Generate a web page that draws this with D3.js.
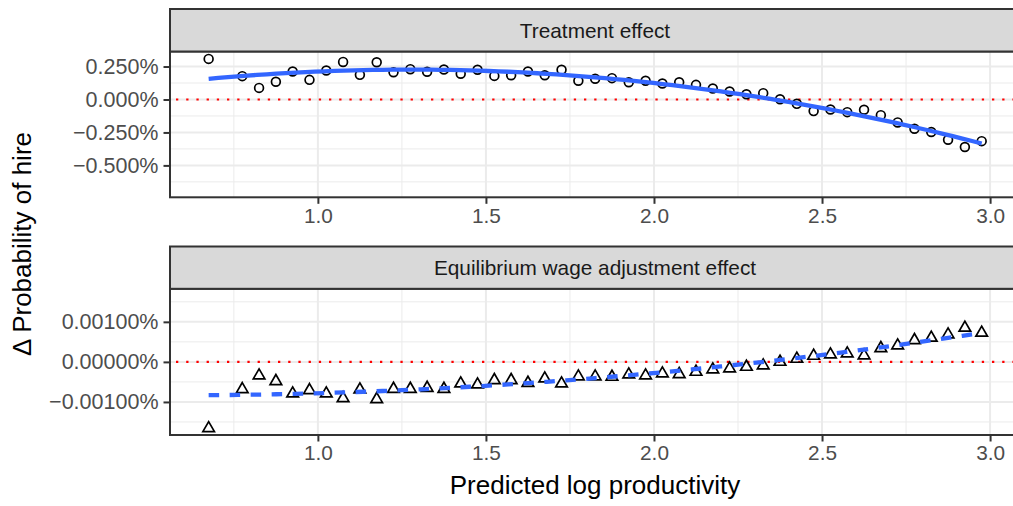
<!DOCTYPE html>
<html><head><meta charset="utf-8">
<script src="https://cdn.jsdelivr.net/npm/d3@7"></script>
<style>
body{margin:0;background:#fff;}
svg{display:block;font-family:"Liberation Sans",Arial,Helvetica,sans-serif;}
</style></head>
<body><svg id="chart" width="1013" height="506"></svg>
<script>
// ---- data ----
const xBins = [0.675,0.775,0.825,0.875,0.925,0.975,1.025,1.075,1.125,1.175,1.225,1.275,1.325,1.375,1.425,1.475,1.525,1.575,1.625,1.675,1.725,1.775,1.825,1.875,1.925,1.975,2.025,2.075,2.125,2.175,2.225,2.275,2.325,2.375,2.425,2.475,2.525,2.575,2.625,2.675,2.725,2.775,2.825,2.875,2.925,2.975];
// Treatment effect, in percent
const treatment = [0.308,0.177,0.088,0.134,0.212,0.149,0.220,0.285,0.187,0.283,0.207,0.230,0.210,0.227,0.195,0.225,0.179,0.184,0.212,0.184,0.225,0.142,0.157,0.162,0.131,0.142,0.121,0.131,0.111,0.083,0.061,0.040,0.048,0.002,-0.033,-0.088,-0.076,-0.096,-0.078,-0.119,-0.174,-0.222,-0.247,-0.306,-0.361,-0.316];
// Equilibrium wage adjustment effect, in percent
const equilibrium = [-0.001658,-0.000683,-0.000342,-0.000483,-0.000792,-0.000708,-0.000792,-0.000908,-0.000692,-0.000933,-0.000675,-0.000675,-0.000650,-0.000675,-0.000542,-0.000567,-0.000458,-0.000458,-0.000525,-0.000417,-0.000542,-0.000367,-0.000367,-0.000375,-0.000317,-0.000342,-0.000292,-0.000308,-0.000250,-0.000192,-0.000167,-0.000125,-0.000092,0.000000,0.000075,0.000150,0.000183,0.000208,0.000158,0.000342,0.000408,0.000542,0.000600,0.000683,0.000850,0.000725];
const panelTitles = ["Treatment effect","Equilibrium wage adjustment effect"];
const xTicks = [1.0,1.5,2.0,2.5,3.0];
const xMinor = [0.75,1.25,1.75,2.25,2.75];
const topTicks = [0.25,0,-0.25,-0.5];
const topMinor = [0.125,-0.125,-0.375,-0.625];
const botTicks = [0.001,0,-0.001];
const botMinor = [0.0015,0.0005,-0.0005,-0.0015];
const xLabel = "Predicted log productivity";
const yLabel = "\u0394 Probability of hire";

// ---- layout ----
const svg = d3.select("#chart");
const L = 170, R = 1020;
const x = d3.scaleLinear().domain([0.56,3.089]).range([L,R]);

function quadFit(xs, ys){
  // least squares y = a + b x + c x^2 (geom_smooth lm poly 2)
  let S=[0,0,0,0,0], T=[0,0,0];
  xs.forEach((xv,i)=>{const y=ys[i];let p=1;for(let k=0;k<5;k++){S[k]+=p;p*=xv;}T[0]+=y;T[1]+=y*xv;T[2]+=y*xv*xv;});
  const M=[[S[0],S[1],S[2],T[0]],[S[1],S[2],S[3],T[1]],[S[2],S[3],S[4],T[2]]];
  for(let i=0;i<3;i++){for(let j=i+1;j<3;j++){const f=M[j][i]/M[i][i];for(let k=i;k<4;k++)M[j][k]-=f*M[i][k];}}
  const c=[0,0,0];
  for(let i=2;i>=0;i--){let s=M[i][3];for(let k=i+1;k<3;k++)s-=M[i][k]*c[k];c[i]=s/M[i][i];}
  return xv=>c[0]+c[1]*xv+c[2]*xv*xv;
}

const panels = [
  {title:panelTitles[0], stripTop:9, top:51.5, bottom:197.3, domain:[-0.742,0.364], vals:treatment,
   ticks:topTicks, minor:topMinor, fmt:d3.format(".3f"), shape:"circle", dash:null},
  {title:panelTitles[1], stripTop:246.5, top:288.8, bottom:435, domain:[-0.001825,0.001825], vals:equilibrium,
   ticks:botTicks, minor:botMinor, fmt:d3.format(".5f"), shape:"triangle", dash:"10.5,10.5"}
];

panels.forEach(p=>{
  const y = d3.scaleLinear().domain(p.domain).range([p.bottom,p.top]);
  const g = svg.append("g");
  g.append("rect").attr("x",L).attr("y",p.top).attr("width",R-L).attr("height",p.bottom-p.top).attr("fill","#fff");
  g.selectAll(null).data(p.minor).enter().append("line")
    .attr("x1",L).attr("x2",R).attr("y1",d=>y(d)).attr("y2",d=>y(d)).attr("stroke","#EBEBEB").attr("stroke-width",1);
  g.selectAll(null).data(xMinor).enter().append("line")
    .attr("y1",p.top).attr("y2",p.bottom).attr("x1",d=>x(d)).attr("x2",d=>x(d)).attr("stroke","#EBEBEB").attr("stroke-width",1);
  g.selectAll(null).data(p.ticks).enter().append("line")
    .attr("x1",L).attr("x2",R).attr("y1",d=>y(d)).attr("y2",d=>y(d)).attr("stroke","#EBEBEB").attr("stroke-width",2);
  g.selectAll(null).data(xTicks).enter().append("line")
    .attr("y1",p.top).attr("y2",p.bottom).attr("x1",d=>x(d)).attr("x2",d=>x(d)).attr("stroke","#EBEBEB").attr("stroke-width",2);
  g.append("line").attr("x1",L).attr("x2",R).attr("y1",y(0)).attr("y2",y(0))
    .attr("stroke","#FF0000").attr("stroke-width",2.2).attr("stroke-dasharray","2.3,7.9").attr("stroke-dashoffset",-6);
  const pts = xBins.map((xv,i)=>({x:xv,y:p.vals[i]}));
  if(p.shape==="circle"){
    g.selectAll(null).data(pts).enter().append("circle")
      .attr("cx",d=>x(d.x)).attr("cy",d=>y(d.y)).attr("r",4.4)
      .attr("fill","none").attr("stroke","#000").attr("stroke-width",1.7);
  } else {
    const s=11.6, h=s*Math.sqrt(3)/2;
    const tri = `M0,${-2*h/3}L${s/2},${h/3}L${-s/2},${h/3}Z`;
    g.selectAll(null).data(pts).enter().append("path")
      .attr("d",tri).attr("transform",d=>`translate(${x(d.x)},${y(d.y)})`)
      .attr("fill","none").attr("stroke","#000").attr("stroke-width",1.7).attr("stroke-linejoin","miter");
  }
  const f = quadFit(xBins,p.vals);
  const xs0 = d3.min(xBins), xs1 = d3.max(xBins);
  const fitPts = d3.range(0,81).map(i=>{const xv=xs0+(xs1-xs0)*i/80;return [xv,f(xv)];});
  const path = g.append("path").datum(fitPts)
    .attr("d",d3.line().x(d=>x(d[0])).y(d=>y(d[1])))
    .attr("fill","none").attr("stroke","#3366FF").attr("stroke-width",4.3);
  if(p.dash) path.attr("stroke-dasharray",p.dash);
  g.append("rect").attr("x",L).attr("y",p.top).attr("width",R-L).attr("height",p.bottom-p.top)
    .attr("fill","none").attr("stroke","#333333").attr("stroke-width",2);
  g.append("rect").attr("x",L).attr("y",p.stripTop).attr("width",R-L).attr("height",p.top-p.stripTop)
    .attr("fill","#D9D9D9").attr("stroke","#333333").attr("stroke-width",2);
  g.append("text").attr("x",(L+R)/2).attr("y",(p.stripTop+p.top)/2+7.4)
    .attr("text-anchor","middle").attr("font-size",20.8).attr("fill","#1A1A1A").text(p.title);
  const ya = g.append("g").attr("transform",`translate(${L},0)`)
    .call(d3.axisLeft(y).tickValues(p.ticks).tickSize(6.5).tickPadding(5).tickFormat(d=>p.fmt(d)+"%"));
  ya.select(".domain").remove();
  ya.selectAll(".tick line").attr("stroke","#333333").attr("stroke-width",2);
  ya.selectAll(".tick text").attr("font-size",21.5).attr("fill","#4D4D4D").attr("font-family",null);
  const xa = g.append("g").attr("transform",`translate(0,${p.bottom})`)
    .call(d3.axisBottom(x).tickValues(xTicks).tickSize(6.5).tickPadding(4).tickFormat(d3.format(".1f")));
  xa.select(".domain").remove();
  xa.selectAll(".tick line").attr("stroke","#333333").attr("stroke-width",2);
  xa.selectAll(".tick text").attr("font-size",20.8).attr("fill","#4D4D4D").attr("font-family",null);
});

svg.append("text").attr("x",(L+R)/2).attr("y",494).attr("text-anchor","middle")
  .attr("font-size",26).attr("fill","#000").text(xLabel);
svg.append("text").attr("transform","translate(31,244) rotate(-90)").attr("text-anchor","middle")
  .attr("font-size",26).attr("fill","#000").text(yLabel);
</script></body></html>
